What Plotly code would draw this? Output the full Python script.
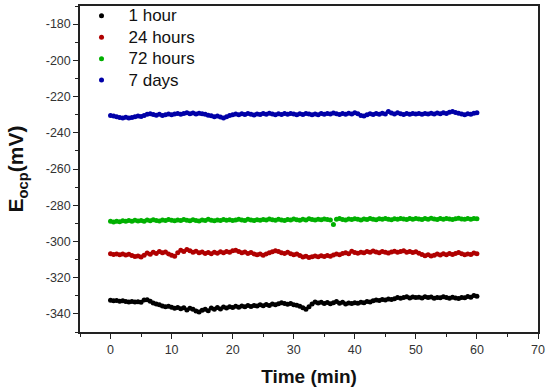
import plotly.graph_objects as go

time_min = [i * 0.5 for i in range(121)]

e_1hour = [
    -332.5,-332.8,-332.6,-333.0,-332.7,-333.1,-333.4,-333.2,-333.5,-333.3,-333.6,
    -332.4,-332.2,-333.0,-334.0,-334.5,-335.0,-335.6,-336.1,-335.8,-336.4,
    -336.9,-336.5,-337.2,-336.6,-337.8,-336.9,-337.5,-338.4,-338.9,-338.0,
    -337.4,-338.2,-336.8,-337.5,-336.5,-337.3,-336.2,-336.8,-336.0,-336.5,
    -335.8,-336.4,-335.6,-336.1,-335.4,-335.9,-335.3,-335.7,-335.0,-335.5,
    -334.8,-335.3,-334.6,-335.0,-334.4,-333.8,-334.3,-334.7,-334.2,-334.9,
    -335.2,-335.8,-336.6,-337.4,-336.1,-334.6,-333.5,-334.0,-333.6,-334.2,
    -333.7,-334.4,-333.9,-333.2,-334.1,-333.6,-334.5,-334.0,-334.3,-333.8,
    -334.1,-333.6,-333.9,-333.2,-333.5,-332.8,-332.3,-332.6,-332.0,-332.4,
    -331.8,-332.1,-331.6,-330.9,-331.4,-331.0,-330.5,-331.2,-330.7,-331.0,
    -330.8,-331.2,-330.6,-331.0,-330.7,-331.3,-330.9,-331.1,-330.5,-330.9,
    -331.3,-330.8,-331.2,-331.5,-330.9,-331.1,-330.4,-330.8,-329.8,-330.2,
]

e_24hours = [
    -306.8,-307.2,-306.9,-307.4,-307.0,-307.5,-307.1,-307.8,-308.3,-308.0,-308.6,
    -307.6,-306.4,-307.1,-305.9,-306.7,-305.6,-306.3,-305.8,-306.9,-307.6,
    -308.2,-306.2,-304.8,-305.6,-304.4,-305.2,-306.0,-305.4,-306.3,-305.8,
    -306.6,-306.1,-306.8,-305.9,-306.5,-305.7,-306.2,-305.5,-306.0,-305.2,
    -304.9,-305.6,-306.3,-305.8,-306.6,-306.1,-306.9,-307.4,-307.0,-307.6,
    -306.9,-306.2,-305.7,-305.1,-305.6,-306.2,-306.6,-306.0,-306.8,-307.3,
    -307.0,-307.8,-308.6,-308.2,-308.9,-308.4,-308.0,-308.5,-307.9,-308.3,
    -307.8,-308.2,-307.5,-306.9,-307.4,-306.7,-306.2,-306.8,-305.4,-306.1,
    -306.5,-305.9,-306.3,-305.6,-306.0,-305.3,-305.8,-306.2,-305.5,-305.9,
    -306.4,-305.8,-305.4,-306.0,-305.6,-305.2,-305.9,-305.5,-306.1,-305.7,
    -306.5,-307.2,-307.9,-307.4,-308.1,-307.6,-307.0,-307.5,-306.8,-307.3,
    -306.7,-307.2,-306.6,-306.1,-306.8,-307.4,-306.9,-307.2,-306.4,-306.8,
]

e_72hours = [
    -288.9,-289.2,-288.8,-289.1,-288.6,-288.9,-288.5,-288.8,-288.3,-288.7,-288.4,
    -288.8,-288.2,-288.6,-288.0,-288.4,-288.7,-288.1,-288.5,-287.9,-288.3,
    -288.6,-288.2,-288.5,-287.9,-288.3,-288.6,-288.0,-288.4,-288.7,-288.2,
    -288.5,-287.8,-288.3,-288.6,-288.1,-288.4,-287.9,-288.3,-288.0,-288.5,
    -288.2,-287.7,-288.1,-288.4,-287.8,-288.2,-288.5,-288.0,-288.3,-287.9,
    -288.2,-287.6,-288.0,-288.3,-287.7,-288.1,-288.4,-287.9,-288.2,-287.6,
    -288.0,-288.3,-287.8,-288.1,-287.5,-287.9,-288.2,-287.7,-288.0,-287.6,
    -287.9,-288.2,-290.6,-287.8,-287.4,-287.9,-288.1,-287.6,-287.9,-287.5,
    -287.8,-288.1,-287.6,-287.9,-287.4,-287.7,-288.0,-287.5,-287.8,-287.4,
    -287.7,-288.0,-287.5,-287.8,-287.3,-287.6,-287.9,-287.4,-287.7,-287.3,
    -287.6,-287.9,-287.4,-287.7,-287.2,-287.6,-287.9,-287.4,-287.7,-287.3,
    -287.6,-287.9,-287.5,-287.2,-287.6,-287.8,-287.4,-287.7,-287.3,-287.5,
]

e_7days = [
    -230.4,-230.8,-231.2,-231.5,-231.8,-231.4,-231.9,-231.5,-231.2,-230.8,-231.0,
    -230.5,-229.8,-229.5,-229.9,-230.3,-229.8,-230.4,-230.0,-229.6,-230.1,
    -229.7,-229.3,-229.8,-229.4,-229.0,-229.5,-229.1,-229.6,-229.2,-229.5,
    -229.8,-230.3,-230.6,-231.1,-230.7,-231.3,-231.9,-231.2,-230.5,-230.0,
    -229.6,-230.1,-229.5,-229.9,-229.3,-229.8,-230.2,-229.6,-229.9,-229.4,
    -229.8,-229.2,-229.6,-230.0,-229.5,-229.9,-229.4,-229.8,-229.3,-229.7,
    -230.0,-229.5,-229.9,-229.3,-229.7,-230.1,-229.6,-230.0,-229.4,-229.8,
    -229.3,-229.7,-229.1,-229.5,-229.9,-229.4,-229.8,-229.2,-229.6,-229.0,
    -229.5,-230.4,-230.8,-230.1,-229.5,-229.9,-229.4,-229.8,-229.2,-229.6,
    -228.3,-229.1,-229.6,-229.0,-229.5,-229.9,-229.4,-229.8,-229.3,-229.7,
    -229.4,-229.8,-229.3,-229.7,-229.2,-229.6,-229.1,-229.5,-229.0,-229.4,
    -228.7,-228.3,-228.8,-229.2,-229.6,-230.0,-229.5,-229.8,-229.2,-229.0,
]

series_names = ["1 hour", "24 hours", "72 hours", "7 days"]
series_values = [e_1hour, e_24hours, e_72hours, e_7days]
series_colors = ["#000000", "#b00000", "#00b000", "#0000a8"]

x_ticks = [0, 10, 20, 30, 40, 50, 60, 70]
x_ticktext = ["0", "10", "20", "30", "40", "50", "60", "70"]
y_ticks = [-340, -320, -300, -280, -260, -240, -220, -200, -180]
y_ticktext = ["-340", "-320", "-300", "-280", "-260", "-240", "-220", "-200", "-180"]

FONT = "Arial, Liberation Sans, sans-serif"

fig = go.Figure()
for name, vals, col in zip(series_names, series_values, series_colors):
    fig.add_trace(go.Scatter(
        x=time_min, y=vals, name='<span style="font-size:17px">' + name + '</span>',
        mode="markers",
        marker=dict(color=col, size=5, symbol="circle"),
    ))

axis_common = dict(
    showgrid=False, zeroline=False, showline=True, linecolor="#222222", linewidth=1.5,
    mirror=True, ticks="outside", ticklen=5, tickwidth=1.2, tickcolor="#222222",
    tickfont=dict(family=FONT, size=12.5, color="#333333"),
)

fig.update_layout(
    width=550, height=392,
    margin=dict(l=80, r=12, t=6, b=60, autoexpand=False),
    paper_bgcolor="white", plot_bgcolor="white",
    showlegend=True,
    legend=dict(x=-0.012, y=1.0, xanchor="left", yanchor="top", yref="container",
                font=dict(family=FONT, size=14.2, color="#111111"),
                bgcolor="rgba(0,0,0,0)", itemsizing="trace", itemwidth=44),
    xaxis=dict(range=[-5, 70], tickvals=x_ticks, ticktext=x_ticktext,
               minor=dict(dtick=5, tick0=0, ticks="outside", ticklen=3, tickcolor="#222222"),
               title=dict(text="<b>Time (min)</b>", font=dict(family=FONT, size=19, color="#111111"),
                          standoff=14),
               **axis_common),
    yaxis=dict(range=[-350, -170], tickvals=y_ticks, ticktext=y_ticktext,
               minor=dict(dtick=10, tick0=0, ticks="outside", ticklen=3, tickcolor="#222222"),
               title=dict(text="<b>E<sub>ocp</sub>(mV)</b>", font=dict(family=FONT, size=21, color="#111111"),
                          standoff=16),
               **axis_common),
)

fig.write_html("out.html", config={"displayModeBar": False},
               post_script="document.body.style.margin='0';")
